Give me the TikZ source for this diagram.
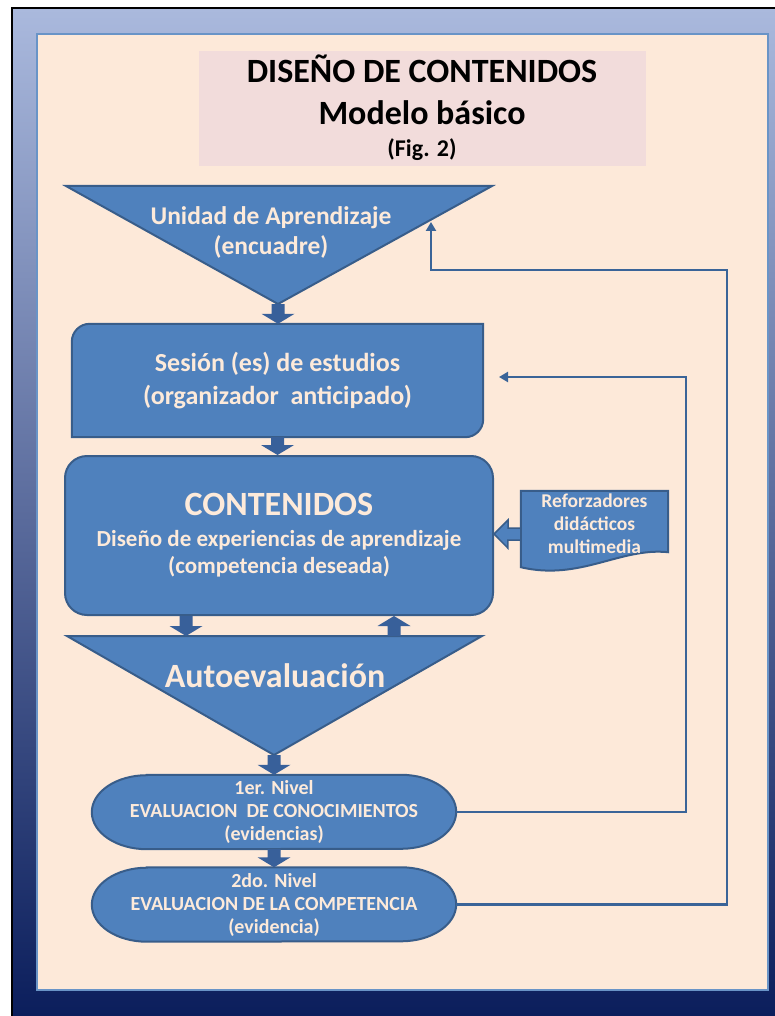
\documentclass[tikz,border=0pt]{standalone}
\usepackage{fontspec}
\setmainfont{Carlito}
\usetikzlibrary{arrows.meta, calc, positioning, backgrounds}

\definecolor{framelight}{HTML}{AAB9DD}
\definecolor{framemid}{HTML}{4A5F9F}
\definecolor{framedark}{HTML}{0B1E5C}
\definecolor{panelpeach}{HTML}{FDE9D9}
\definecolor{titlepink}{HTML}{F2DCDB}
\definecolor{boxblue}{HTML}{4F81BD}
\definecolor{edgeblue}{HTML}{385D8A}
\definecolor{arrowblue}{HTML}{38609A}
\definecolor{lineblue}{HTML}{3A6498}
\definecolor{textpeach}{HTML}{FDEADA}

\tikzset{
  shapefill/.style={fill=boxblue, draw=edgeblue, line width=2pt},
  boxtext/.style={text=textpeach, align=center, inner sep=0pt},
  blockarrow/.style={fill=arrowblue, to path={
    let \p1=(\tikztostart), \p2=(\tikztotarget), \p3=($(\tikztotarget)!10pt!(\tikztostart)$) in
    (\x1-6.5pt,\y1) -- (\x1-6.5pt,\y3) -- (\x1-16.5pt,\y3) -- (\x1,\y2)
    -- (\x1+16.5pt,\y3) -- (\x1+6.5pt,\y3) -- (\x1+6.5pt,\y1) -- cycle}},
  feedback/.style={draw=lineblue, line width=2.7pt, -{Triangle[length=9pt, width=10pt]}}
}

\begin{document}
\begin{tikzpicture}[x=1pt, y=-1pt]
  \useasboundingbox (0,0) rectangle (775,1016);

  % frame and panel
  \begin{scope}[on background layer]
    \fill[white] (0,0) rectangle (775,1016);
    \shade[top color=framelight, middle color=framemid, bottom color=framedark] (12,8) rectangle (775,1016);
    \draw[black, line width=1.5pt] (12,1016) -- (12,8) -- (775,8);
    \draw[fill=panelpeach, draw=boxblue!85!white, line width=1.5pt] (37,34) rectangle (768,990);
    \fill[titlepink] (199,51) rectangle (646,166);
  \end{scope}

  % Title
  \node[font=\fontsize{34}{40}\selectfont\bfseries, anchor=base] (ttl) at (422,83) {DISEÑO DE CONTENIDOS};
  \node[font=\fontsize{34}{40}\selectfont\bfseries, anchor=base] (sub) at (422,125) {Modelo básico};
  \node[font=\fontsize{24}{28}\selectfont\bfseries, anchor=base] (fig) at (422,157) {(Fig. 2)};

  % Triangle corners
  \coordinate (t1l) at (66,186);
  \coordinate (t1r) at (492,186);
  \coordinate (t1a) at (278,304);
  \coordinate (t2l) at (67,636);
  \coordinate (t2r) at (482,636);
  \coordinate (t2a) at (274,755);
  \coordinate (t2d) at (186,636);
  \coordinate (t2u) at (394,636);

  % Unidad de aprendizaje
  \node[boxtext, font=\fontsize{25.5}{30}\selectfont\bfseries] (uni) at (271,232) {Unidad de Aprendizaje\\(encuadre)};

  % Sesiones
  \node[boxtext, minimum width=411, minimum height=113, font=\fontsize{26}{33}\selectfont\bfseries] (ses) at (277.5,380.5) {Sesión (es) de estudios\\(organizador\ \ anticipado)};

  % Contenidos
  \node[shapefill, rounded corners=22pt, minimum width=428, minimum height=159, boxtext, font=\fontsize{23}{27}\selectfont\bfseries] (cont) at (279,535.5) {{\fontsize{34}{40}\selectfont CONTENIDOS}\\[4pt]Diseño de experiencias de aprendizaje\\(competencia deseada)};

  % Reforzadores
  \node[boxtext, minimum width=147, minimum height=66, font=\fontsize{19.5}{23}\selectfont\bfseries] (ref) at (594.5,524) {Reforzadores\\didácticos\\multimedia};

  % Autoevaluacion
  \node[boxtext, font=\fontsize{34}{40}\selectfont\bfseries, anchor=base] (auto) at (275,687) {Autoevaluación};

  % Niveles
  \node[boxtext, minimum width=364, minimum height=74, font=\fontsize{20}{23}\selectfont\bfseries] (niv1) at (274,812) {1er. Nivel\\EVALUACION\ \ DE CONOCIMIENTOS\\(evidencias)};
  \node[boxtext, minimum width=364, minimum height=74, font=\fontsize{20}{23}\selectfont\bfseries] (niv2) at (274,904.5) {2do. Nivel\\EVALUACION DE LA COMPETENCIA\\(evidencia)};

  % shapes behind the texts
  \begin{scope}[on background layer]
    \draw[shapefill] (t1l) -- (t1r) -- (t1a) -- cycle;
    \draw[shapefill] (t2l) -- (t2r) -- (t2a) -- cycle;
    \draw[shapefill] (ses.south west) -- ($(ses.north west)+(0,18)$)
      .. controls ($(ses.north west)+(0,8)$) and ($(ses.north west)+(8,0)$) .. ($(ses.north west)+(18,0)$)
      -- (ses.north east) -- ($(ses.south east)+(0,-18)$)
      .. controls ($(ses.south east)+(0,-8)$) and ($(ses.south east)+(-8,0)$) .. ($(ses.south east)+(-18,0)$) -- cycle;
    \foreach \lvl in {niv1, niv2}
      \draw[shapefill] ($(\lvl.north west)+(55,0)$) -- ($(\lvl.north east)+(-55,0)$)
        arc[start angle=90, end angle=-90, x radius=55pt, y radius=37pt]
        -- ($(\lvl.south west)+(55,0)$)
        arc[start angle=270, end angle=90, x radius=55pt, y radius=37pt] -- cycle;
    \draw[shapefill] (ref.north west) -- (ref.north east) -- ($(ref.south east)+(0,-5)$)
      .. controls ($(ref.south east)+(-48,-10)$) and ($(ref.south west)+(59,24)$) .. ($(ref.south west)+(0,10)$) -- cycle;
  \end{scope}

  % block arrows
  \path[blockarrow] (t1a) to (ses.north);
  \path[blockarrow] (ses.south) to (cont.north);
  \path[blockarrow] (cont.south -| t2d) to (t2d);
  \path[blockarrow] (t2u) to (cont.south -| t2u);
  \path[blockarrow] (t2a) to (niv1.north);
  \path[blockarrow] (niv1.south) to (niv2.north);
  \draw[shapefill, line width=1.5pt] (cont.east |- 0,534) -- ++(14,-14) -- ++(0,8) -- (ref.west |- 0,528)
    -- ++(0,12) -- ++(-13,0) -- ++(0,8) -- cycle;

  % feedback lines
  \coordinate (fb1) at (499,377);
  \coordinate (bend1) at (686,377);
  \coordinate (fb2) at (431,222);
  \coordinate (bend2) at (727,270);
  \draw[feedback] (niv1.east) -| (bend1) -- (fb1);
  \draw[feedback] (niv2.east) -| (bend2) -| (fb2);
\end{tikzpicture}
\end{document}
